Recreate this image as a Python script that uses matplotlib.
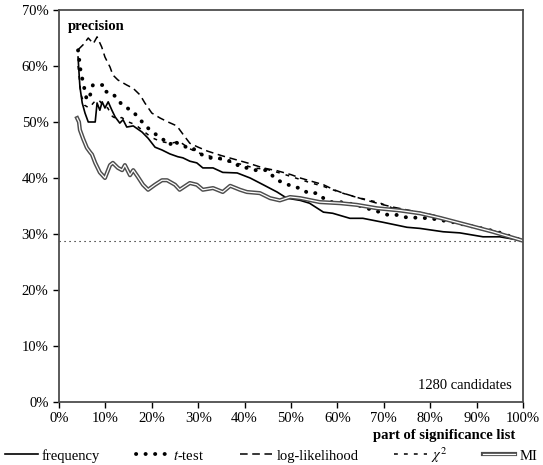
import matplotlib
matplotlib.use("Agg")
import matplotlib.pyplot as plt
import matplotlib.patheffects as pe
from matplotlib.ticker import FuncFormatter

plt.rcParams['font.family'] = ['Liberation Serif', 'DejaVu Serif']
plt.rcParams['mathtext.fontset'] = 'stix'

# precision (%) vs. part of significance list (%)
freq_x = [4.1, 4.5, 5.0, 5.6, 6.3, 7.8, 8.2, 8.8, 9.3, 9.9, 10.6, 11.4, 12.1, 13.1, 13.8,
          14.6, 16.0, 17.9, 19.2, 20.7, 22.2, 23.9, 25.6, 26.7, 28.2, 29.7, 31.0, 33.2,
          35.3, 38.4, 41.2, 44.0, 47.0, 49.1, 52.0, 54.0, 57.0, 59.0, 62.7, 65.5, 69.8,
          75.0, 77.8, 82.8, 86.4, 91.4, 95.0, 100.0]
freq_y = [61.6, 56.3, 53.4, 51.6, 50.0, 50.0, 53.4, 52.1, 53.6, 52.5, 53.6, 52.1, 50.9,
          49.8, 50.4, 49.1, 49.3, 48.2, 47.1, 45.5, 45.0, 44.3, 43.8, 43.6, 43.0, 42.7,
          41.8, 41.8, 41.0, 40.9, 40.0, 38.8, 37.5, 36.4, 36.0, 35.5, 33.9, 33.7, 32.8,
          32.8, 32.1, 31.2, 31.0, 30.4, 30.2, 29.5, 29.5, 28.8]

ttest_x = [4.1, 4.7, 5.2, 5.6, 6.0, 6.7, 7.3, 8.4, 9.5, 9.9, 11.0, 12.5, 13.6, 14.6, 15.7,
           17.5, 18.9, 21.0, 21.8, 23.9, 24.6, 26.0, 27.6, 28.7, 29.7, 31.0, 32.5, 34.3,
           35.8, 37.5, 39.0, 40.5, 42.2, 44.8, 47.0, 48.7, 50.4, 52.0, 53.7, 55.6, 57.0,
           58.8, 60.6, 64.2, 67.5, 69.2, 70.9, 72.8, 74.6, 80.0, 85.0, 90.0, 94.4, 100.0]
ttest_y = [62.8, 58.8, 57.1, 55.4, 53.9, 54.8, 56.6, 56.6, 56.6, 55.4, 55.4, 54.3, 53.0,
           52.5, 52.1, 50.4, 49.1, 47.7, 47.3, 45.9, 46.8, 45.9, 45.5, 45.5, 44.6, 44.1,
           43.6, 43.6, 43.2, 42.9, 42.0, 41.8, 41.4, 41.4, 39.6, 39.1, 38.4, 38.2, 37.3,
           37.3, 36.4, 35.7, 35.7, 35.2, 34.3, 33.9, 33.4, 33.4, 33.0, 32.8, 32.1, 31.2,
           30.4, 28.8]

ll_x = [4.1, 5.2, 6.3, 7.4, 8.2, 9.2, 9.9, 11.0, 11.6, 12.7, 14.6, 16.0, 17.5, 18.5, 20.0,
        21.8, 23.5, 25.4, 27.0, 28.2, 30.0, 32.0, 35.0, 38.0, 41.0, 44.0, 47.0, 50.0,
        52.0, 54.5, 57.0, 59.0, 61.2, 64.0, 66.4, 69.0, 72.0, 75.0, 78.0, 80.6, 83.0,
        85.8, 88.0, 91.0, 94.4, 97.0, 100.0]
ll_y = [62.9, 63.8, 65.0, 64.0, 65.2, 63.4, 61.6, 59.8, 58.4, 57.5, 56.6, 56.0, 54.8,
        53.4, 51.6, 50.7, 50.0, 49.3, 47.5, 46.2, 45.5, 44.8, 44.0, 43.3, 42.6, 41.8,
        41.3, 40.6, 40.0, 39.4, 38.8, 38.0, 37.3, 36.6, 36.0, 35.4, 34.8, 34.3, 33.8,
        33.4, 32.8, 32.1, 31.6, 31.1, 30.4, 29.6, 28.8]

chi_x = [4.1, 4.7, 5.5, 6.5, 7.5, 8.5, 9.5, 10.5, 11.5, 12.5, 13.5, 15.0, 16.5, 18.0,
         20.0, 22.0, 24.0, 26.0, 28.0, 30.0, 33.0, 36.0, 39.0, 42.0, 45.0, 48.0, 51.0,
         54.0, 57.0, 60.0, 63.0, 66.0, 69.0, 72.0, 75.0, 78.0, 81.0, 84.0, 87.0, 90.0,
         93.0, 96.0, 100.0]
chi_y = [60.0, 55.0, 53.0, 52.5, 53.5, 54.0, 53.0, 52.5, 51.0, 50.5, 50.8, 50.0, 49.5,
         48.5, 47.2, 46.5, 46.2, 46.5, 45.3, 44.5, 43.8, 43.0, 42.5, 41.8, 41.5, 40.8,
         40.0, 39.2, 38.5, 37.6, 36.8, 36.2, 35.6, 34.6, 34.2, 33.8, 33.2, 32.4, 31.9,
         31.3, 30.6, 29.8, 28.8]

mi_x = [3.9, 4.3, 4.5, 5.2, 5.6, 6.0, 6.7, 7.1, 7.8, 8.8, 9.9, 11.0, 11.6, 12.7, 13.6,
        14.2, 15.3, 16.0, 17.0, 18.1, 19.2, 20.7, 22.2, 23.3, 25.0, 26.0, 28.2, 29.7,
        31.0, 33.2, 35.3, 36.9, 39.0, 40.5, 43.3, 45.5, 47.6, 49.8, 52.0, 56.2, 60.6,
        64.2, 68.5, 73.5, 77.8, 82.0, 88.0, 93.5, 100.0]
mi_y = [50.7, 50.0, 48.6, 47.0, 46.2, 45.4, 44.6, 44.2, 42.7, 41.0, 40.0, 42.3, 42.7,
        41.8, 41.4, 42.3, 40.5, 41.4, 40.2, 38.8, 37.9, 38.8, 39.6, 39.6, 38.8, 37.9,
        39.1, 38.8, 37.9, 38.2, 37.5, 38.6, 37.9, 37.5, 37.3, 36.4, 36.0, 36.6, 36.4,
        35.7, 35.5, 35.2, 34.6, 34.2, 33.7, 32.9, 31.6, 30.4, 28.8]

baseline = 28.8
n_candidates = 1280
x_ticks = list(range(0, 101, 10))
y_ticks = list(range(0, 71, 10))

fig = plt.figure(figsize=(5.43, 4.65), dpi=100)
ax = fig.add_axes([0.1087, 0.1355, 0.8543, 0.8430])

ax.plot([0, 100], [baseline, baseline], color='black', lw=0.8, ls=(0, (1, 3.5)))

ax.plot(freq_x, freq_y, color='black', lw=1.2, label='frequency')
ax.plot(ttest_x, ttest_y, color='black', lw=2.8, ls=(0, (0.05, 2.4)),
        dash_capstyle='round', label='$t$-test')
ax.plot(ll_x, ll_y, color='black', lw=1.1, ls=(0, (5, 3)), label='log-likelihood')
ax.plot(chi_x, chi_y, color='black', lw=1.1, ls=(0, (2.5, 4)), label='$\\chi^2$')
ax.plot(mi_x, mi_y, color='white', lw=0.9, label='MI',
        path_effects=[pe.Stroke(linewidth=3.0, foreground='0.3'), pe.Normal()])

ax.set_xlim(0, 100)
ax.set_ylim(0, 70)
ax.set_xticks(x_ticks)
ax.set_yticks(y_ticks)
pct = FuncFormatter(lambda v, p: f'{v:.0f}%')
ax.xaxis.set_major_formatter(pct)
ax.yaxis.set_major_formatter(pct)
ax.tick_params(direction='out', length=4, width=1, labelsize=10.5, colors='black')
for s in ax.spines.values():
    s.set_color('0.3')
    s.set_linewidth(1.3)

ax.text(2.0, 67, 'precision', fontsize=10.5, fontweight='bold', va='center', ha='left')
ax.text(97.5, 3.0, f'{n_candidates} candidates', fontsize=10.5, ha='right', va='center')
fig.text(0.948, 0.064, 'part of significance list', fontsize=10.5, fontweight='bold',
         ha='right', va='center')

fig.legend(loc='center', bbox_to_anchor=(0.01, 0.004, 0.98, 0.036), mode='expand',
           ncol=5, frameon=False, fontsize=10.5, handlelength=2.2, handletextpad=0.3,
           borderpad=0.0, borderaxespad=0)

fig.savefig('out.png', dpi=100)
